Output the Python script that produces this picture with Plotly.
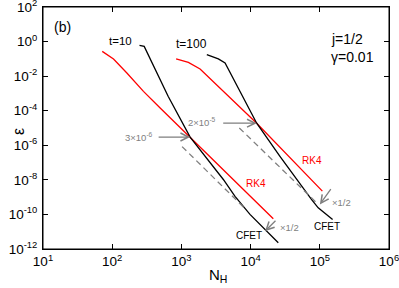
import plotly.graph_objects as go
import math

# ---- data ----
N_rk4_t10 = [71.8, 104.5, 163, 283, 493, 1337, 21280]
eps_rk4_t10 = [0.272, 0.0986, 0.0153, 1.32e-3, 1.45e-4, 3.0e-6, 5.6e-11]

N_cfet_t10 = [248, 290, 643, 1337, 4036, 5957, 9795, 17060, 25120]
eps_cfet_t10 = [0.603, 0.528, 6.8e-4, 3.0e-6, 1.05e-8, 1.12e-9, 1.0e-10, 1.07e-11, 2.3e-12]

N_rk4_t100 = [839, 1262, 1862, 12250, 108900]
eps_rk4_t100 = [0.0986, 0.0631, 0.0261, 1.9e-5, 2.24e-9]

N_cfet_t100 = [2328, 3420, 4276, 7447, 12250, 26550, 46240, 76210, 94840, 153100]
eps_cfet_t100 = [0.175, 0.0986, 0.0579, 8.5e-4, 1.9e-5, 2.31e-7, 1.05e-8, 7.2e-10, 2.4e-10, 5.1e-11]

N_half_t10 = [1023, 8590]
eps_half_t10 = [8.4e-7, 1.92e-10]

N_half_t100 = [6870, 89950]
eps_half_t100 = [1.01e-5, 4.69e-10]

x_tickvals = [10, 100, 1e3, 1e4, 1e5, 1e6]
x_ticktext = ["10<sup>1</sup>", "10<sup>2</sup>", "10<sup>3</sup>", "10<sup>4</sup>", "10<sup>5</sup>", "10<sup>6</sup>"]
y_tickvals = [1e2, 1, 1e-2, 1e-4, 1e-6, 1e-8, 1e-10, 1e-12]
y_ticktext = ["10<sup>2</sup>", "10<sup>0</sup>", "10<sup>-2</sup>", "10<sup>-4</sup>", "10<sup>-6</sup>",
              "10<sup>-8</sup>", "10<sup>-10</sup>", "10<sup>-12</sup>"]

cross_t10 = (1337, 3.0e-6)
cross_t100 = (12250, 1.9e-5)

L = math.log10

FONT = "Liberation Sans, Arial, Helvetica, sans-serif"
GRAY = "#7f7f7f"
RED = "#ff0000"

fig = go.Figure()
for xs, ys, col in [(N_rk4_t10, eps_rk4_t10, RED), (N_cfet_t10, eps_cfet_t10, "black"),
                    (N_rk4_t100, eps_rk4_t100, RED), (N_cfet_t100, eps_cfet_t100, "black")]:
    fig.add_trace(go.Scatter(x=xs, y=ys, mode="lines", line=dict(color=col, width=1.3),
                             showlegend=False, hoverinfo="skip"))
for xs, ys in [(N_half_t10, eps_half_t10), (N_half_t100, eps_half_t100)]:
    fig.add_trace(go.Scatter(x=xs, y=ys, mode="lines",
                             line=dict(color=GRAY, width=1.3, dash="6px,4px"),
                             showlegend=False, hoverinfo="skip"))

axis_common = dict(type="log", showgrid=False, zeroline=False, showline=True, linecolor="black",
                   linewidth=1, mirror="ticks", ticks="inside", ticklen=5, tickcolor="black",
                   automargin=False, ticklabeloverflow="allow",
                   tickfont=dict(family=FONT, size=13.5, color="black"))
fig.update_xaxes(range=[1, 6], tickvals=x_tickvals, ticktext=x_ticktext, ticklabelstandoff=0, **axis_common)
fig.update_yaxes(range=[-12, 2], tickvals=y_tickvals, ticktext=y_ticktext, ticklabelstandoff=2, **axis_common)

ann = []
def txt(x, y, s, size, color="black", xanchor="center"):
    ann.append(dict(x=x, y=y, xref="x", yref="y", text=s, showarrow=False, xanchor=xanchor,
                    yanchor="middle", font=dict(family=FONT, size=size, color=color)))

txt(2.115, 0.052, "t=10", 11.5)
txt(3.14, -0.121, "t=100", 12)
txt(1.286, 0.861, "(b)", 14)
txt(5.131, 0.168, "j=1/2", 14, xanchor="left")
txt(5.131, -0.873, "γ=0.01", 14, xanchor="left")
txt(4.078, -8.214, "RK4", 10, RED)
txt(4.893, -6.884, "RK4", 10, RED)
txt(3.977, -11.22, "CFET", 10)
txt(5.102, -10.70, "CFET", 10)
txt(4.395, -10.757, "×1/2", 9.5, GRAY, "left")
txt(5.146, -9.312, "×1/2", 9.5, GRAY, "left")
txt(2.62, -5.497, "3×10<sup>-6</sup>", 9.5, GRAY, "right")
txt(3.534, -4.671, "2×10<sup>-5</sup>", 9.5, GRAY, "right")

def arrow(x, y, ax, ay):
    ann.append(dict(x=x, y=y, xref="x", yref="y", ax=ax, ay=ay, text="", showarrow=True,
                    arrowhead=5, arrowsize=1.2, arrowwidth=1.3, arrowcolor=GRAY, standoff=0))

arrow(L(cross_t10[0]), L(cross_t10[1]), -33, 0)
arrow(L(cross_t100[0]), L(cross_t100[1]), -35, 0)
arrow(4.208, -10.971, 12, -12)
arrow(5.001, -9.428, 12, -17)

# axis titles
ann.append(dict(x=-0.071, y=0.485, xref="paper", yref="paper", text="ε", showarrow=False, textangle=-90,
                font=dict(family=FONT, size=16, color="black"), xanchor="center", yanchor="middle"))
ann.append(dict(x=0.505, y=-0.108, xref="paper", yref="paper", text="N<sub>H</sub>", showarrow=False,
                font=dict(family=FONT, size=15, color="black"), xanchor="center", yanchor="middle"))

fig.add_shape(type="rect", xref="paper", yref="paper", x0=0, y0=0, x1=1, y1=1,
              line=dict(color="black", width=1), fillcolor="rgba(0,0,0,0)", layer="above")

fig.update_layout(width=399, height=288, margin=dict(l=43, r=10, t=7, b=39),
                  paper_bgcolor="white", plot_bgcolor="white", annotations=ann,
                  font=dict(family=FONT))
fig.write_html("out.html", config={"displayModeBar": False},
               post_script="document.body.style.margin='0';document.body.style.overflow='hidden';")
